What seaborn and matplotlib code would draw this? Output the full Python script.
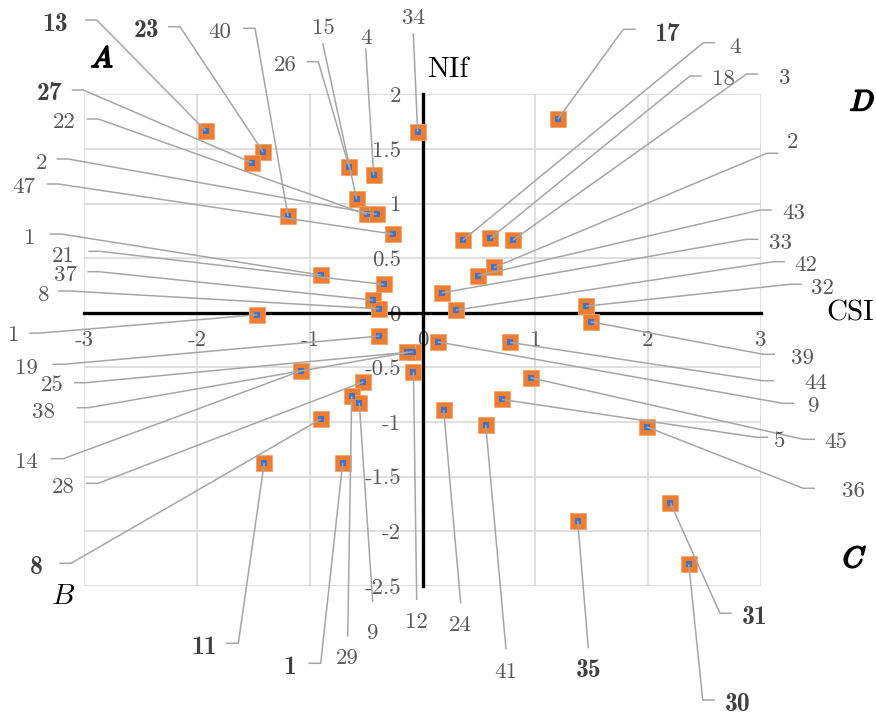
import matplotlib
matplotlib.use("Agg")
import matplotlib.pyplot as plt
import matplotlib.patheffects as pe
from matplotlib.lines import Line2D
import seaborn as sns
import pandas as pd

# ---------------- data ----------------
POINT_LABELS = ['13', '23', '27', '40', '26', '4', '15', '22', '2', '47', '34',
                '1', '21', '37', '8', '1', '19', '25', '38', '14', '28', '8',
                '11', '1', '29', '9', '12', '24', '41', '35', '31', '30', '36',
                '5', '45', '9', '44', '39', '32', '42', '33', '43', '2', '3',
                '18', '4', '17']
CSI_VALUES = [-1.924, -1.415, -1.513, -1.193, -0.650, -0.433, -0.584, -0.495,
              -0.406, -0.264, -0.043, -0.898, -0.344, -0.437, -0.383, -1.466,
              -0.383, -0.087, -0.135, -1.078, -0.525, -0.903, -1.404, -0.708,
              -0.628, -0.561, -0.080, 0.188, 0.561, 1.377, 2.199, 2.362, 1.989,
              0.705, 0.960, 0.135, 0.779, 1.492, 1.451, 0.297, 0.170, 0.490,
              0.634, 0.803, 0.602, 0.359, 1.200]
NIF_VALUES = [1.667, 1.474, 1.374, 0.886, 1.331, 1.258, 1.038, 0.901, 0.901,
              0.721, 1.658, 0.345, 0.260, 0.116, 0.037, -0.018, -0.213, -0.357,
              -0.363, -0.531, -0.632, -0.973, -1.374, -1.374, -0.763, -0.824,
              -0.540, -0.891, -1.028, -1.905, -1.740, -2.301, -1.044, -0.793,
              -0.595, -0.266, -0.271, -0.082, 0.061, 0.025, 0.183, 0.339, 0.415,
              0.666, 0.681, 0.666, 1.771]
X_TICKS = [-3, -2, -1, 0, 1, 2, 3]
X_TICK_LABELS = ['-3', '-2', '-1', '0', '1', '2', '3']
Y_TICKS = [-2.5, -2, -1.5, -1, -0.5, 0, 0.5, 1, 1.5, 2]
Y_TICK_LABELS = ['-2.5', '-2', '-1.5', '-1', '-0.5', '0', '0.5', '1', '1.5', '2']
X_TITLE = 'CSI'
Y_TITLE = 'NIf'
QUADRANTS = ['A', 'B', 'C', 'D']

# ---------------- layout (pixels, top-left origin) ----------------
W, H = 876, 715
# bold flags for labels (style)
BOLD = {0, 1, 2, 21, 22, 23, 29, 30, 31, 46}
# text centre (tx, ty), leader start (sx, sy), leader elbow (ex, ey)
LAYOUT = [
    (55, 21.7, 85, 20, 96.7, 20),
    (146.7, 28.3, 168, 26.7, 180, 26.7),
    (49.3, 90.7, 71.7, 90, 83.3, 90),
    (220, 30, 243, 28.3, 255, 28.3),
    (285.7, 63.3, 306.7, 61.7, 318.3, 61.7),
    (365.7, 36, 365.7, 48.3, 365.7, 48.3),
    (323, 26, 322.7, 43.3, 322.7, 43.3),
    (64.3, 120.7, 86.7, 119, 98.3, 119),
    (41.7, 161.7, 56.7, 159, 68.3, 159),
    (24.3, 185.7, 46.7, 184, 58.3, 184),
    (413.3, 16.7, 413.3, 33.3, 413.3, 33.3),
    (29.3, 236.7, 49.3, 234, 61, 234),
    (63.3, 254, 88.3, 251.3, 100, 251.3),
    (65.7, 273.3, 87.3, 271.7, 99, 271.7),
    (43.3, 293.3, 58.3, 291, 70, 291),
    (13.3, 333.3, 29.3, 333.3, 41, 333),
    (26, 366.7, 52.3, 364.3, 64, 364.3),
    (52.3, 383.3, 74, 382.7, 85.7, 382.7),
    (43.3, 410, 76.7, 407.7, 88.3, 407.7),
    (26.7, 460, 50.7, 458.7, 63.3, 458.7),
    (63.3, 485, 86, 483.3, 98.3, 483.3),
    (36, 565, 59.3, 563.3, 71, 563.3),
    (204, 645, 226, 643.3, 238.3, 643.3),
    (290, 665, 308.3, 663.3, 320.7, 663.3),
    (347.7, 656.7, 347.7, 636.7, 347.7, 636.7),
    (372.7, 631.7, 372.7, 601.7, 372.7, 601.7),
    (416.7, 620, 416.7, 600, 416.7, 600),
    (460.7, 623.3, 460.7, 603.3, 460.7, 603.3),
    (506, 670, 506, 649.3, 506, 649.3),
    (588.3, 668.3, 588.3, 648.3, 588.3, 648.3),
    (755, 615, 731.7, 613.3, 720, 613.3),
    (737.3, 701.7, 715, 700, 702.7, 700),
    (853.3, 489.3, 815, 488.3, 803.3, 488.3),
    (780, 439.3, 768.3, 437.3, 756.7, 437.3),
    (836, 440, 815, 439.3, 803.3, 439.3),
    (814, 404, 794.3, 403.3, 782.7, 403.3),
    (816, 381.7, 774, 380.7, 762.3, 380.7),
    (802.7, 356, 775, 354.3, 763.3, 354.3),
    (822.7, 286, 801.7, 284.3, 790, 284.3),
    (806, 263.3, 785, 261.7, 773.3, 261.7),
    (780, 241.7, 758.3, 239.3, 746.7, 239.3),
    (794, 211.7, 771.7, 210, 760, 210),
    (792.3, 140.7, 778.3, 153.3, 766.7, 153.3),
    (785, 76.7, 758.3, 74, 746.7, 74),
    (723.3, 77.3, 701.7, 76, 690, 76),
    (735, 45, 715, 42.7, 703.3, 42.7),
    (666.7, 31.7, 635.7, 29.3, 623.3, 29.3),
]
QUAD_POS = [(101.7, 60), (63.3, 597), (853.3, 560), (861.7, 103.3)]
QUAD_BOLD = [True, False, True, True]

ORANGE = '#ED7D31'
BLUE = '#4472C4'
LEADER = '#A6A6A6'
GRID = '#D9D9D9'
LABEL_C = '#595959'
BOLD_C = '#404040'

sns.set_theme(style='white')
plt.rcParams['font.family'] = ['cmr10', 'DejaVu Serif']
plt.rcParams['axes.unicode_minus'] = False
plt.rcParams['mathtext.fontset'] = 'cm'

df = pd.DataFrame({'label': POINT_LABELS, 'CSI': CSI_VALUES, 'NIf': NIF_VALUES})

fig = plt.figure(figsize=(W / 100, H / 100), dpi=100)
x0, x1, y0, y1 = 84.3, 760.7, 94.3, 586.0
ax = fig.add_axes([x0 / W, 1 - y1 / H, (x1 - x0) / W, (y1 - y0) / H])

sns.scatterplot(data=df, x='CSI', y='NIf', marker='s', s=118, color=ORANGE,
                linewidth=0.6, edgecolor='#F4A36E', ax=ax, zorder=4, clip_on=False)
sns.scatterplot(data=df, x='CSI', y='NIf', marker='s', s=19, color=BLUE,
                linewidth=0, ax=ax, zorder=5, clip_on=False)

ax.set_xlim(-3, 3)
ax.set_ylim(-2.5, 2)
ax.set_xticks(X_TICKS)
ax.set_xticklabels(X_TICK_LABELS)
ax.set_yticks(Y_TICKS)
ax.set_yticklabels(Y_TICK_LABELS)
ax.grid(True, color=GRID, linewidth=1.2)
for gl in ax.get_xgridlines() + ax.get_ygridlines():
    gl.set_clip_on(False)
ax.set_axisbelow(True)
for s in ['top', 'right']:
    ax.spines[s].set_visible(False)
ax.spines['left'].set_position(('data', 0))
ax.spines['bottom'].set_position(('data', 0))
for s in ['left', 'bottom']:
    ax.spines[s].set_linewidth(2.4)
    ax.spines[s].set_color('black')
    ax.spines[s].set_zorder(3)
ax.tick_params(axis='x', length=0, pad=13, labelsize=16.5, labelcolor=LABEL_C)
ax.tick_params(axis='y', length=0, pad=15.5, labelsize=16.5, labelcolor=LABEL_C)
ax.set_xlabel('')
ax.set_ylabel('')
ax.patch.set_alpha(0)

# axis titles
fig.text(447.7 / W, 1 - 70 / H, Y_TITLE, ha='center', va='center', fontsize=21,
         color='black', family=['cmr10', 'DejaVu Serif'])
fig.text(850 / W, 1 - 313.3 / H, X_TITLE, ha='center', va='center', fontsize=21,
         color='black', family=['cmr10', 'DejaVu Serif'])

# quadrant letters
for q, (qx, qy), b in zip(QUADRANTS, QUAD_POS, QUAD_BOLD):
    t = fig.text(qx / W, 1 - qy / H, q, ha='center', va='center', fontsize=21,
                 color='black', family=['cmmi10', 'DejaVu Serif'])
    if b:
        t.set_path_effects([pe.withStroke(linewidth=1.3, foreground='black')])

# data labels with leader lines
fig.canvas.draw()
inv = fig.transFigure.inverted()
for i, (lab, xv, yv) in enumerate(zip(POINT_LABELS, CSI_VALUES, NIF_VALUES)):
    tx, ty, sx, sy, ex, ey = LAYOUT[i]
    px, py = inv.transform(ax.transData.transform((xv, yv)))
    xs = [sx / W, ex / W, px]
    ys = [1 - sy / H, 1 - ey / H, py]
    fig.add_artist(Line2D(xs, ys, transform=fig.transFigure, color=LEADER,
                          linewidth=1.1, zorder=6, solid_capstyle='butt'))
    bold = i in BOLD
    fig.text(tx / W, 1 - ty / H, lab, ha='center', va='center_baseline',
             fontsize=18.5 if bold else 16.5, color=BOLD_C if bold else LABEL_C,
             family=['cmb10' if bold else 'cmr10', 'DejaVu Serif'], zorder=7)

fig.savefig('out.png', dpi=100)
